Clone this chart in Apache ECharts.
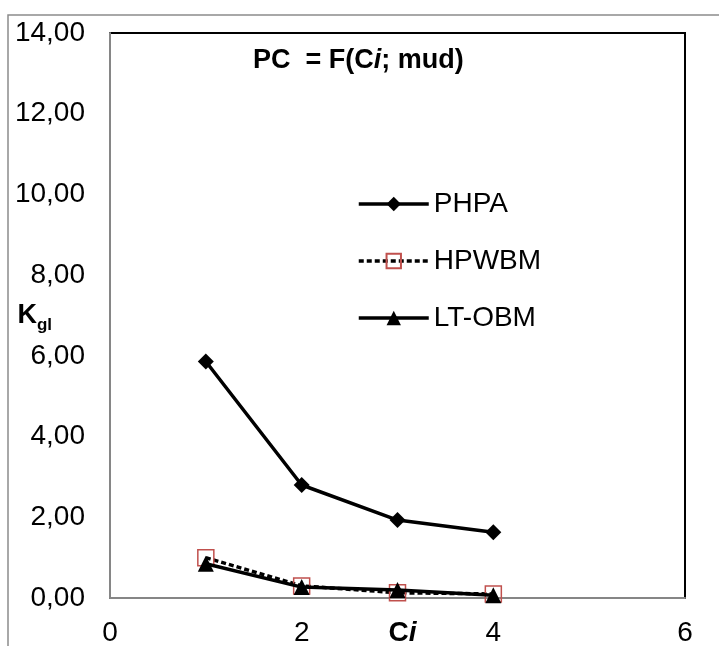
<!DOCTYPE html>
<html>
<head>
<meta charset="utf-8">
<script src="https://cdn.jsdelivr.net/npm/echarts@6/dist/echarts.min.js"></script>
<style>
  html, body { margin: 0; padding: 0; background: #fff; }
  #chart { width: 719px; height: 646px; }
</style>
</head>
<body>
<div id="chart"></div>
<script>
// Ci values on the x axis
const ciValues = [1, 2, 3, 4];
// Kgl per mud type
const phpa = [5.86, 2.80, 1.93, 1.63];
const hpwbm = [1.00, 0.30, 0.13, 0.10];
const ltObm = [0.85, 0.27, 0.20, 0.07];

const FONT = "'Liberation Sans', Arial, sans-serif";

const pairs = (ys) => ciValues.map((x, i) => [x, ys[i]]);
const commaFmt = (v) => v.toFixed(2).replace(".", ",");

const chart = echarts.init(document.getElementById("chart"));
chart.setOption({
  backgroundColor: "#fff",
  animation: false,
  textStyle: { fontFamily: FONT },
  title: {
    text: "{b|PC  = F(C}{bi|i}{b|; mud)}",
    left: 248,
    top: 42,
    textStyle: {
      rich: {
        b: { fontFamily: FONT, fontSize: 27, fontWeight: "bold", color: "#000" },
        bi: { fontFamily: FONT, fontSize: 27, fontWeight: "bold", fontStyle: "italic", color: "#000" },
      },
    },
  },
  legend: {
    orient: "vertical",
    left: 352,
    top: 185,
    itemWidth: 70,
    itemHeight: 18,
    itemGap: 29,
    lineStyle: { width: 3.5 },
    textStyle: { fontFamily: FONT, fontSize: 28, color: "#000" },
    data: ["PHPA", "HPWBM", "LT-OBM"],
  },
  grid: {
    left: 110,
    right: 34,
    top: 33,
    bottom: 48,
    outerBoundsMode: "none",
    show: true,
    borderColor: "#000",
    borderWidth: 2,
  },
  xAxis: {
    type: "value",
    min: 0,
    max: 6,
    interval: 2,
    name: "{b|C}{bi|i}",
    nameLocation: "middle",
    nameGap: 21,
    nameMoveOverlap: false,
    nameTextStyle: {
      padding: [0, 0, 0, 10],
      rich: {
        b: { fontFamily: FONT, fontSize: 28, fontWeight: "bold", color: "#000" },
        bi: { fontFamily: FONT, fontSize: 28, fontWeight: "bold", fontStyle: "italic", color: "#000" },
      },
    },
    axisLine: { lineStyle: { color: "#868686", width: 2 } },
    axisTick: { show: false },
    splitLine: { show: false },
    axisLabel: { fontFamily: FONT, fontSize: 28, color: "#000", margin: 21 },
  },
  yAxis: {
    type: "value",
    min: 0,
    max: 14,
    interval: 2,
    name: "{k|K}{s|gl}",
    nameLocation: "middle",
    nameRotate: 0,
    nameGap: 58,
    nameMoveOverlap: false,
    nameTextStyle: {
      rich: {
        k: { fontFamily: FONT, fontSize: 27, fontWeight: "bold", color: "#000", lineHeight: 36 },
        s: { fontFamily: FONT, fontSize: 17, fontWeight: "bold", color: "#000", lineHeight: 17, verticalAlign: "bottom" },
      },
    },
    axisLine: { show: true, lineStyle: { color: "#868686", width: 2 } },
    axisTick: { show: false },
    splitLine: { show: false },
    axisLabel: {
      fontFamily: FONT,
      fontSize: 28,
      color: "#000",
      margin: 25,
      formatter: commaFmt,
    },
  },
  graphic: [
    {
      type: "rect",
      shape: { x: 8, y: 15, width: 760, height: 700 },
      style: { fill: "none", stroke: "#8c8c8c", lineWidth: 1.5 },
      silent: true,
      z: -1,
    },
  ],
  series: [
    {
      name: "PHPA",
      type: "line",
      data: pairs(phpa),
      symbol: "diamond",
      symbolSize: 16,
      itemStyle: { color: "#000" },
      lineStyle: { color: "#000", width: 3.5 },
      z: 3,
    },
    {
      name: "HPWBM",
      type: "line",
      data: pairs(hpwbm),
      symbol: "rect",
      symbolSize: 16,
      itemStyle: { color: "rgba(0,0,0,0)", borderColor: "#c0504d", borderWidth: 1.5 },
      lineStyle: { color: "#000", width: 3.5, type: [5, 3] },
      z: 2,
    },
    {
      name: "LT-OBM",
      type: "line",
      data: pairs(ltObm),
      symbol: "triangle",
      symbolSize: 16,
      itemStyle: { color: "#000" },
      lineStyle: { color: "#000", width: 3.5 },
      z: 4,
    },
  ],
});
</script>
</body>
</html>
